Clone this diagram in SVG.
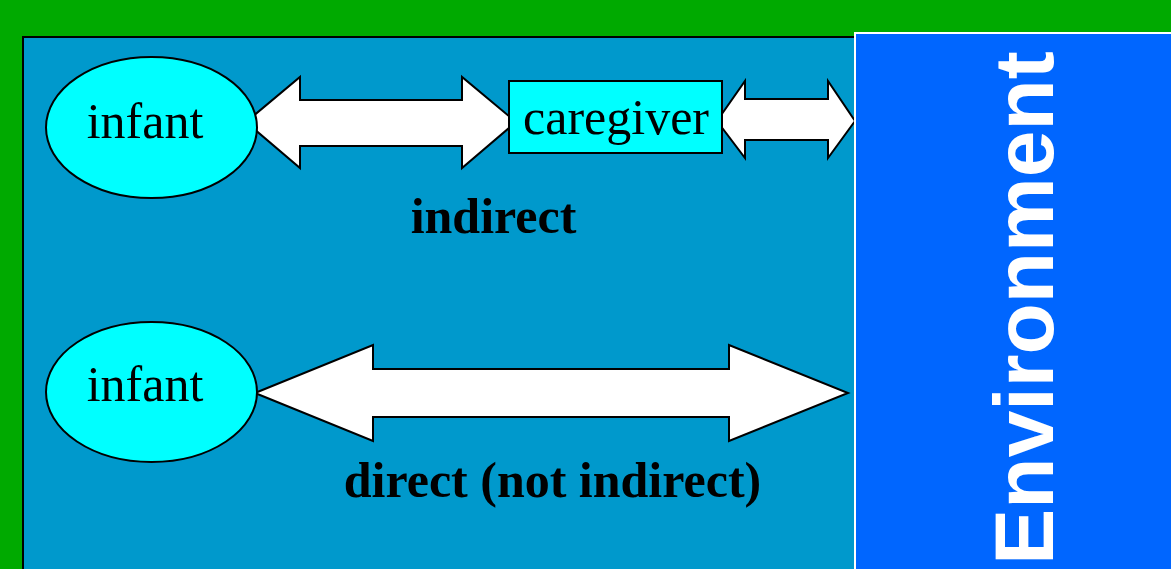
<svg xmlns="http://www.w3.org/2000/svg" width="1171" height="569" viewBox="0 0 1171 569">
<style>
.node{fill:#00FFFF;stroke:#000;stroke-width:2}
.arrow{fill:#FFFFFF;stroke:#000;stroke-width:2;stroke-linejoin:miter}
.lbl{font-family:"Liberation Serif","Times New Roman",serif;font-size:50px;fill:#000}
.bold{font-family:"Liberation Serif","Times New Roman",serif;font-size:50px;font-weight:bold;fill:#000}
.env{font-family:"Liberation Sans",Arial,sans-serif;font-size:84px;font-weight:bold;fill:#FFFFFF}
</style>
<rect x="0" y="0" width="1171" height="569" fill="#00AA00"/>
<g id="panel">
<rect x="23" y="37" width="840" height="560" fill="#0099CC" stroke="#000" stroke-width="2"/>
</g>
<g id="connectors">
<polygon class="arrow" points="246,122 300,77 300,100 462,100 462,77 516,122 462,168 462,146 300,146 300,168"/>
<polygon class="arrow" points="717,121 745,81 745,99 828,99 828,81 855,121 828,158 828,140 745,140 745,158"/>
<polygon class="arrow" points="255,393 373,345 373,369 729,369 729,345 848,393 729,441 729,417 373,417 373,441"/>
</g>
<g id="infant-top">
<ellipse class="node" cx="151.5" cy="127.5" rx="105.5" ry="70.5"/>
<text class="lbl" x="145" y="138" text-anchor="middle">infant</text>
</g>
<g id="caregiver">
<rect class="node" x="509" y="81" width="213" height="72"/>
<text class="lbl" x="616" y="134" text-anchor="middle">caregiver</text>
</g>
<g id="infant-bottom">
<ellipse class="node" cx="151.5" cy="392" rx="105.5" ry="70"/>
<text class="lbl" x="145" y="401" text-anchor="middle">infant</text>
</g>
<g id="label-indirect">
<text class="bold" x="493.5" y="233" text-anchor="middle">indirect</text>
</g>
<g id="label-direct">
<text class="bold" x="552.5" y="497" text-anchor="middle">direct (not indirect)</text>
</g>
<g id="environment">
<rect x="855" y="33" width="330" height="560" fill="#0066FF" stroke="#FFFFFF" stroke-width="2"/>
<text class="env" transform="translate(1053,308) rotate(-90)" text-anchor="middle">Environment</text>
</g>
</svg>
